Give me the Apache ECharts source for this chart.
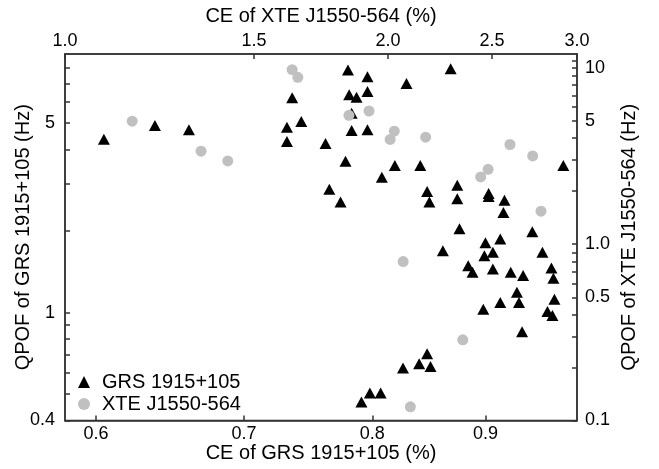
<!DOCTYPE html>
<html>
<head>
<meta charset="utf-8">
<title>QPOF vs CE</title>
<script src="https://cdn.jsdelivr.net/npm/echarts@6/dist/echarts.min.js"></script>
<style>
  html, body { margin: 0; padding: 0; background: #fff; }
  #chart { width: 659px; height: 469px; }
</style>
</head>
<body>
<div id="chart"></div>
<script>
// GRS 1915+105 (bottom / left axes)
const grsCE = [
  0.605, 0.638, 0.661, 0.732, 0.732, 0.736, 0.743, 0.762, 0.765, 0.774,
  0.780, 0.796, 0.829, 0.868, 0.781, 0.787, 0.796, 0.783, 0.783, 0.796,
  0.778, 0.819, 0.841, 0.808, 0.976, 0.874, 0.847, 0.849, 0.874, 0.903,
  0.903, 0.918, 0.917, 0.876, 0.945, 0.861, 0.900, 0.914, 0.907, 0.899,
  0.955, 0.884, 0.888, 0.907, 0.924, 0.936, 0.964, 0.966, 0.930, 0.898,
  0.914, 0.932, 0.967, 0.960, 0.965, 0.935, 0.847, 0.840, 0.850, 0.826,
  0.798, 0.807, 0.791
]
const grsQPOF = [
  4.36, 4.90, 4.73, 4.83, 4.28, 6.20, 5.07, 4.21, 2.85, 2.56,
  7.86, 7.42, 7.01, 7.94, 6.36, 6.23, 6.54, 5.44, 4.70, 4.73,
  3.62, 3.49, 3.49, 3.16, 3.49, 2.95, 2.80, 2.56, 2.63, 2.75,
  2.68, 2.60, 2.34, 2.04, 1.99, 1.69, 1.81, 1.87, 1.67, 1.62,
  1.67, 1.49, 1.41, 1.45, 1.41, 1.37, 1.46, 1.34, 1.19, 1.03,
  1.09, 1.09, 1.12, 1.01, 0.975, 0.851, 0.705, 0.648, 0.633, 0.625,
  0.505, 0.505, 0.468
]

// XTE J1550-564 (top / right axes)
const xteCE = [
  1.155, 1.339, 1.418, 1.628, 1.648, 1.839, 1.920, 2.027, 2.009, 2.168,
  2.598, 2.728, 2.479, 2.440, 2.777, 2.066, 2.348, 2.098
]
const xteQPOF = [
  4.99, 3.37, 2.97, 9.78, 8.85, 5.39, 5.70, 4.38, 3.93, 4.05,
  3.68, 3.17, 2.66, 2.41, 1.54, 0.797, 0.287, 0.1195
]

// tick positions
const bottomTicks = [0.6, 0.7, 0.8, 0.9]
const topTicks = [1.0, 1.5, 2.0, 2.5, 3.0]
const leftTicks = [0.4, 0.5, 0.6, 0.7, 0.8, 0.9, 1, 2, 3, 4, 5, 6, 7, 8]
const leftLabels = [0.4, 1, 5]
const rightTicks = [0.1, 0.2, 0.3, 0.4, 0.5, 0.6, 0.7, 0.8, 0.9, 1, 2, 3, 4, 5, 6, 7, 8, 9, 10, 11]
const rightLabels = [0.1, 0.5, 1, 5, 10]

const FONT = 'Liberation Sans, Arial, Helvetica, sans-serif'
const lineStyle = { color: '#333', width: 1.5 }

const chart = echarts.init(document.getElementById('chart'))

const baseAxis = {
  type: 'log',
  logBase: 10,
  nameLocation: 'middle',
  nameMoveOverlap: false,
  nameTextStyle: { fontFamily: FONT, fontSize: 20, color: '#000' },
  axisLine: { show: true, onZero: false, lineStyle: { ...lineStyle } },
  axisTick: { show: true, inside: true, length: 5, lineStyle: { ...lineStyle } },
  minorTick: { show: false },
  splitLine: { show: false },
  minorSplitLine: { show: false },
}

const labelStyle = { fontFamily: FONT, fontSize: 18, color: '#000' }

const option = {
  animation: false,
  backgroundColor: '#fff',
  grid: {
    left: 65,
    right: 82,
    top: 54,
    bottom: 48.5,
    outerBoundsMode: 'none',
    containLabel: false,
    show: true,
    borderColor: '#333',
    borderWidth: 1.5,
  },
  legend: {
    orient: 'vertical',
    left: 78,
    top: 372,
    padding: 0,
    itemWidth: 12,
    itemHeight: 12,
    itemGap: 2,
    textStyle: { fontFamily: FONT, fontSize: 20, color: '#000', lineHeight: 20, padding: [0, 0, 0, 7] },
    data: [
      { name: 'GRS 1915+105', icon: 'triangle', itemStyle: { color: '#000', opacity: 1 } },
      { name: 'XTE J1550-564', icon: 'circle', itemStyle: { color: '#c0c0c0', opacity: 1 } },
    ],
  },
  xAxis: [
    {
      ...baseAxis,
      position: 'bottom',
      min: 0.581,
      max: 0.99,
      name: 'CE of GRS 1915+105 (%)',
      nameGap: 23,
      axisTick: { ...baseAxis.axisTick, customValues: bottomTicks },
      axisLabel: { ...labelStyle, margin: 5, customValues: bottomTicks, formatter: (v) => v.toFixed(1) },
    },
    {
      ...baseAxis,
      position: 'top',
      min: 1,
      max: 3,
      name: 'CE of XTE J1550-564 (%)',
      nameGap: 28,
      axisTick: { ...baseAxis.axisTick, customValues: topTicks },
      axisLabel: { ...labelStyle, margin: 4, customValues: topTicks, formatter: (v) => v.toFixed(1) },
    },
  ],
  yAxis: [
    {
      ...baseAxis,
      position: 'left',
      min: 0.4,
      max: 9,
      name: 'QPOF of GRS 1915+105 (Hz)',
      nameGap: 32,
      nameRotate: 90,
      axisTick: { ...baseAxis.axisTick, customValues: leftTicks },
      axisLabel: { ...labelStyle, margin: 10, customValues: leftLabels, formatter: (v) => String(v) },
    },
    {
      ...baseAxis,
      position: 'right',
      min: 0.1,
      max: 12,
      name: 'QPOF of XTE J1550-564 (Hz)',
      nameGap: 42,
      nameRotate: 90,
      axisTick: { ...baseAxis.axisTick, customValues: rightTicks },
      axisLabel: {
        ...labelStyle,
        margin: 8,
        customValues: rightLabels,
        formatter: (v) => (v === 1 ? '1.0' : String(v)),
      },
    },
  ],
  series: [
    {
      name: 'GRS 1915+105',
      type: 'scatter',
      xAxisIndex: 0,
      yAxisIndex: 0,
      symbol: 'triangle',
      symbolSize: [12, 11],
      itemStyle: { color: '#000', opacity: 1 },
      data: grsCE.map((x, i) => [x, grsQPOF[i]]),
    },
    {
      name: 'XTE J1550-564',
      type: 'scatter',
      xAxisIndex: 1,
      yAxisIndex: 1,
      symbol: 'circle',
      symbolSize: 11,
      itemStyle: { color: '#c0c0c0', opacity: 1 },
      data: xteCE.map((x, i) => [x, xteQPOF[i]]),
    },
  ],
}

chart.setOption(option)
</script>
</body>
</html>
